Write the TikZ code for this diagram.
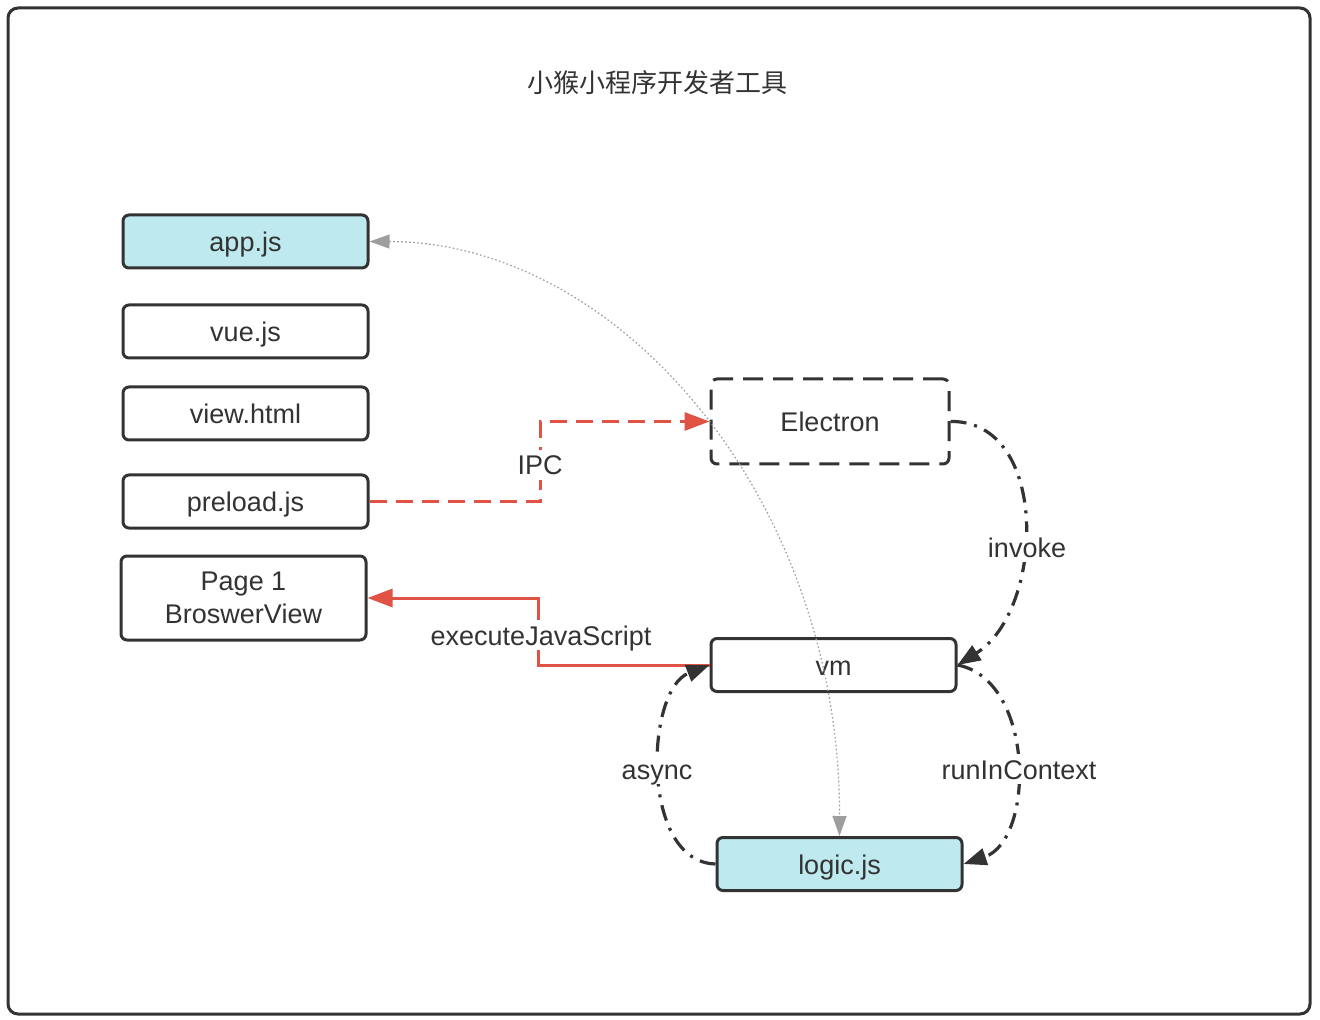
\documentclass[tikz,border=0pt]{standalone}
\usepackage{fontspec}
\setmainfont{Liberation Sans}
\newfontfamily\cjk{Noto Sans CJK SC}
\usetikzlibrary{arrows.meta}
\definecolor{dk}{HTML}{333333}
\definecolor{rd}{HTML}{E05243}
\definecolor{cy}{HTML}{BDE9EF}
\definecolor{gy}{HTML}{9E9E9E}
\tikzset{
  txt/.style={font=\fontsize{13.5}{16}\selectfont},
  box/.style={draw=dk, line width=1.5pt, rounded corners=3pt, fill=white,
    minimum width=122.5pt, minimum height=26.5pt, inner sep=0pt, text=dk,
    txt, align=center},
  fixt/.style={text height=11.5pt, text depth=1.5pt},
  hl/.style={box, fill=cy},
  lbl/.style={fill=white, text=dk, inner sep=1pt, txt, fixt},
  tip/.style={-{Triangle[length=12.5pt,width=9pt]}},
  ipc/.style={rd, line width=1.5pt, dash pattern=on 8.5pt off 4.5pt, tip},
  exec/.style={rd, line width=1.5pt, tip},
  dashdot/.style={dk, line width=1.6pt, dash pattern=on 8pt off 4pt on 1.5pt off 4pt,
    -{Triangle[length=11.5pt,width=8.5pt]}},
  dots/.style={gy, line width=0.6pt, dash pattern=on 0.8pt off 1.2pt,
    {Triangle[length=10pt,width=7pt]}-{Triangle[length=10pt,width=7pt]}}
}
\begin{document}
\begin{tikzpicture}[x=0.5pt,y=-0.5pt]
\useasboundingbox (0,0) rectangle (1320,1020);
\fill[white] (0,0) rectangle (1320,1020);
\draw[dk, line width=1.5pt, rounded corners=5pt] (8,8) rectangle (1310,1014);
\node[text=dk, font=\cjk\fontsize{13}{15}\selectfont] (title) at (657,83) {小猴小程序开发者工具};

\node[hl, fixt] (app) at (245.5,241.5) {app.js};
\node[box, fixt] (vue) at (245.5,331.5) {vue.js};
\node[box, fixt] (view) at (245.5,413.5) {view.html};
\node[box, fixt] (preload) at (245.5,501.5) {preload.js};
\node[box, minimum height=42pt] (page) at (243.5,598) {Page 1\\[0.5pt]BroswerView};
\node[box, fixt, text height=12pt, minimum width=119pt, minimum height=42.5pt, dash pattern=on 10pt off 5pt] (electron) at (830,421.5) {Electron};
\node[box, fixt] (vm) at (833.5,665) {vm};
\node[hl, fixt] (logic) at (839.5,864) {logic.js};

% IPC
\draw[ipc] (preload.east) -- ++(171,0) |- (electron.west);
\node[lbl] (ipcl) at (540,465) {IPC};
% executeJavaScript
\draw[exec] (vm.west) -- ++(-171,0) |- (page.east);
\node[lbl] (execl) at (541,635) {executeJavaScript};
% invoke
\draw[dashdot] (electron.east) .. controls (1050,420) and (1045,610) .. (vm.east);
\node[lbl] (invl) at (1027,547) {invoke};
% runInContext
\draw[dashdot] (vm.east) .. controls (1035,680) and (1035,840) .. (logic.east);
\node[lbl] (runl) at (1019,769) {runInContext};
% async
\draw[dashdot] (logic.west) .. controls (640,862) and (645,690) .. (vm.west);
\node[lbl] (asyl) at (657,769) {async};
% dotted
\draw[dots] (app.east) .. controls (620,242) and (840,500) .. (logic.north);
\end{tikzpicture}
\end{document}
